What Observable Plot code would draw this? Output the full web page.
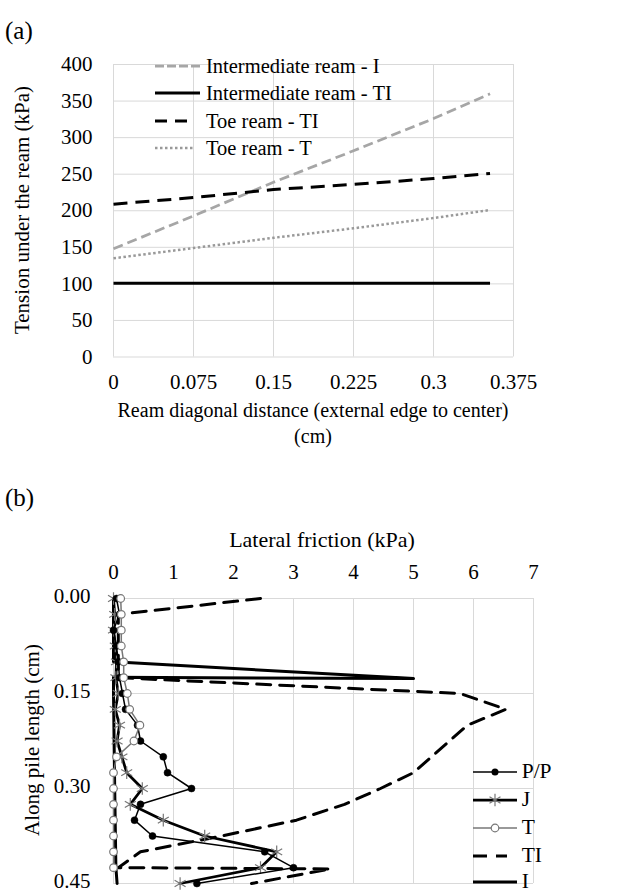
<!DOCTYPE html>
<html>
<head>
<meta charset="utf-8">
<script src="https://cdn.jsdelivr.net/npm/d3@7"></script>
<script src="https://cdn.jsdelivr.net/npm/@observablehq/plot@0.6"></script>
<style>
  html, body { margin: 0; padding: 0; background: #fff; }
  #wrap { position: relative; width: 620px; height: 892px; overflow: hidden;
          font-family: "Liberation Serif", "DejaVu Serif", "Times New Roman", serif; color: #000; }
  #wrap svg, #wrap svg text { font-family: "Liberation Serif", "DejaVu Serif", "Times New Roman", serif !important; }
  .t { position: absolute; white-space: nowrap; line-height: 1; font-size: 21px; }
  .c { transform: translate(-50%, -50%); }
  .l { transform: translate(0, -50%); }
  .rot { transform: translate(-50%, -50%) rotate(-90deg); }
</style>
</head>
<body>
<div id="wrap"></div>
<script>
// ---------- Data: chart (a) ----------
const reamX = [0, 0.075, 0.15, 0.225, 0.3, 0.353];
const intermediateI  = [148, 193, 239, 282, 326, 360];
const intermediateTI = [101, 101, 101, 101, 101, 101];
const toeTI          = [209, 218, 229, 236, 244, 251];
const toeT           = [135, 149, 163, 176, 190, 201];
const seriesNamesA = ["Intermediate ream - I", "Intermediate ream - TI", "Toe ream - TI", "Toe ream - T"];
const xTicksA = [0, 0.075, 0.15, 0.225, 0.3, 0.375];
const xTickLabelsA = ["0", "0.075", "0.15", "0.225", "0.3", "0.375"];
const yTicksA = [0, 50, 100, 150, 200, 250, 300, 350, 400];

// ---------- Data: chart (b) ----------
const depth = [0, 0.025, 0.05, 0.075, 0.1, 0.125, 0.15, 0.175, 0.2, 0.225, 0.25, 0.275, 0.3, 0.325, 0.35, 0.375, 0.4, 0.425, 0.45];
const PP = [0.05, 0.1, 0.0, 0.05, 0.08, 0.1, 0.15, 0.2, 0.4, 0.45, 0.83, 0.9, 1.3, 0.45, 0.35, 0.65, 2.52, 3.0, 1.39];
const J  = [0.0, 0.02, 0.0, 0.03, 0.05, 0.04, 0.08, 0.03, 0.1, 0.06, 0.14, 0.22, 0.48, 0.28, 0.83, 1.52, 2.72, 2.45, 1.11];
const T  = [0.12, 0.13, 0.13, 0.13, 0.17, 0.17, 0.23, 0.27, 0.44, 0.34, 0.05, 0.0, 0.0, 0.0, 0.0, 0.0, 0.0, 0.0];
const tiDepth = [0, 0.025, 0.05, 0.075, 0.1, 0.125, 0.15, 0.175, 0.2, 0.225, 0.25, 0.275, 0.3, 0.325, 0.35, 0.375, 0.4, 0.425, 0.427, 0.45];
const TI      = [2.45, 0.08, 0.08, 0.08, 0.08, 0.08, 5.78, 6.54, 5.9, 5.6, 5.3, 5.0, 4.45, 3.85, 3.05, 1.8, 0.45, 0.08, 3.62, 2.3];
const iDepth = [0, 0.1, 0.1265, 0.1245, 0.15, 0.3, 0.425, 0.45];
const I      = [0, 0, 5.0, 0, 0, 0.02, 0.04, 0.06];
const seriesNamesB = ["P/P", "J", "T", "TI", "I"];
const xTicksB = [0, 1, 2, 3, 4, 5, 6, 7];
const yTicksB = [0, 0.15, 0.30, 0.45];
const yTickLabelsB = ["0.00", "0.15", "0.30", "0.45"];

const FONT = '"Liberation Serif", "DejaVu Serif", "Times New Roman", serif';
const GRID = "#d9d9d9";
const wrap = document.getElementById("wrap");

// ---------- Chart (a) ----------
const toRows = (xs, ys) => xs.map((x, i) => ({x, y: ys[i]}));
const styleA = [
  {data: toRows(reamX, intermediateI),  stroke: "#a6a6a6", w: 2.75, dash: "10,5"},
  {data: toRows(reamX, intermediateTI), stroke: "#000",    w: 3,    dash: null},
  {data: toRows(reamX, toeTI),          stroke: "#000",    w: 3,    dash: "14,8"},
  {data: toRows(reamX, toeT),           stroke: "#999",    w: 2.5,  dash: "2.5,2.5"}
];
const H_A = 460;
const chartA = Plot.plot({
  width: 620, height: H_A,
  marginTop: 64, marginLeft: 113, marginRight: 107, marginBottom: H_A - 356.5,
  style: {fontFamily: FONT, fontSize: "21px", color: "#000", background: "transparent", overflow: "visible"},
  x: {domain: [0, 0.375]},
  y: {domain: [0, 400]},
  marks: [
    Plot.ruleX(xTicksA, {stroke: GRID, strokeWidth: 1}),
    Plot.ruleY(yTicksA, {stroke: GRID, strokeWidth: 1}),
    ...styleA.map(s => Plot.line(s.data, {x: "x", y: "y", stroke: s.stroke, strokeWidth: s.w,
      strokeDasharray: s.dash || undefined, strokeLinecap: "butt"})),
    Plot.axisY({ticks: yTicksA, tickSize: 0, tickPadding: 21, label: null}),
    Plot.axisX({ticks: xTicksA, tickFormat: d => xTickLabelsA[xTicksA.indexOf(d)], tickSize: 0, tickPadding: 17, label: null})
  ]
});
chartA.style.position = "absolute";
chartA.style.left = "0px";
chartA.style.top = "0px";
wrap.appendChild(chartA);

// ---------- Chart (b) ----------
const TOP_B = 460;
const H_B = 892 - TOP_B;
const ppRows = depth.map((d, i) => ({d, f: PP[i]}));
const jRows  = depth.map((d, i) => ({d, f: J[i]}));
const tRows  = T.map((f, i) => ({d: depth[i], f}));
const tiRows = tiDepth.map((d, i) => ({d, f: TI[i]}));
const iRows  = iDepth.map((d, i) => ({d, f: I[i]}));

const chartB = Plot.plot({
  width: 620, height: H_B,
  marginTop: 598 - TOP_B, marginLeft: 113, marginRight: 87, marginBottom: H_B - (883 - TOP_B),
  style: {fontFamily: FONT, fontSize: "21px", color: "#000", background: "transparent", overflow: "visible"},
  x: {domain: [0, 7]},
  y: {domain: [0, 0.45], reverse: true},
  marks: [
    Plot.ruleX(xTicksB, {stroke: GRID, strokeWidth: 1}),
    Plot.ruleY(yTicksB, {stroke: GRID, strokeWidth: 1}),
    Plot.line(tiRows, {x: "f", y: "d", stroke: "#000", strokeWidth: 3, strokeDasharray: "14,9"}),
    Plot.line(iRows, {x: "f", y: "d", stroke: "#000", strokeWidth: 3}),
    Plot.line(jRows, {x: "f", y: "d", stroke: "#000", strokeWidth: 2.75}),
    Plot.dot(jRows, {x: "f", y: "d", symbol: "asterisk", r: 6, stroke: "#777", strokeWidth: 1.2, fill: "none"}),
    Plot.line(ppRows, {x: "f", y: "d", stroke: "#000", strokeWidth: 1.5}),
    Plot.dot(ppRows, {x: "f", y: "d", r: 3.5, fill: "#000", stroke: "#000", strokeWidth: 0.5}),
    Plot.line(tRows, {x: "f", y: "d", stroke: "#777", strokeWidth: 1.5}),
    Plot.dot(tRows, {x: "f", y: "d", r: 3.8, fill: "#fff", stroke: "#777", strokeWidth: 1.2}),
    Plot.axisY({ticks: yTicksB, tickFormat: d => yTickLabelsB[yTicksB.indexOf(d)], tickSize: 0, tickPadding: 23, label: null, dy: -2}),
    Plot.axisX({anchor: "top", ticks: xTicksB, tickFormat: d => String(d), tickSize: 0, tickPadding: 20, label: null})
  ]
});
chartB.style.position = "absolute";
chartB.style.left = "0px";
chartB.style.top = TOP_B + "px";
wrap.appendChild(chartB);

// ---------- Text ----------
function txt(s, x, y, cls, size) {
  const e = document.createElement("div");
  e.className = "t " + cls;
  e.textContent = s;
  e.style.left = x + "px";
  e.style.top = y + "px";
  if (size) e.style.fontSize = size + "px";
  wrap.appendChild(e);
  return e;
}
txt("(a)", 5, 30, "l", 25);
txt("Tension under the ream (kPa)", 22, 210, "rot");
txt("Ream diagonal distance (external edge to center)", 313, 410, "c", 20);
txt("(cm)", 313, 436, "c", 20);
txt("(b)", 5, 497, "l", 25);
txt("Lateral  friction (kPa)", 322, 540, "c", 22);
txt("Along pile length (cm)", 32, 740, "rot");

// ---------- Legends ----------
const NS = "http://www.w3.org/2000/svg";
function sampleSvg(x, y, w, h, build) {
  const s = document.createElementNS(NS, "svg");
  s.setAttribute("width", w); s.setAttribute("height", h);
  s.style.position = "absolute";
  s.style.left = x + "px"; s.style.top = (y - h / 2) + "px";
  s.style.overflow = "visible";
  build(s, h / 2);
  wrap.appendChild(s);
}
function el(name, attrs) {
  const e = document.createElementNS(NS, name);
  for (const k in attrs) e.setAttribute(k, attrs[k]);
  return e;
}
// legend (a)
const legARows = [66, 93.3, 121, 148.3];
const legALen = [48, 45, 37, 40];
styleA.forEach((s, i) => {
  sampleSvg(155, legARows[i], legALen[i], 12, (svg, cy) => {
    const a = {x1: 0, x2: legALen[i], y1: cy, y2: cy, stroke: s.stroke, "stroke-width": s.w};
    if (s.dash) a["stroke-dasharray"] = i === 0 ? "9,3" : (i === 2 ? "12,8" : s.dash);
    svg.appendChild(el("line", a));
  });
  txt(seriesNamesA[i], 206, legARows[i], "l", 20.5);
});
// legend (b)
const legBRows = [772, 800, 828, 856, 882];
const lx = 472.7, lw = 44;
seriesNamesB.forEach((name, i) => {
  sampleSvg(lx, legBRows[i], lw, 14, (svg, cy) => {
    const mid = lw / 2;
    if (name === "P/P") {
      svg.appendChild(el("line", {x1: 0, x2: lw, y1: cy, y2: cy, stroke: "#000", "stroke-width": 1.5}));
      svg.appendChild(el("circle", {cx: mid, cy, r: 3.5, fill: "#000"}));
    } else if (name === "J") {
      svg.appendChild(el("line", {x1: 0, x2: lw, y1: cy, y2: cy, stroke: "#000", "stroke-width": 2.75}));
      const sym = d3.symbol(d3.symbolAsterisk, Math.PI * 36)();
      svg.appendChild(el("path", {d: sym, transform: `translate(${mid},${cy})`, stroke: "#777", "stroke-width": 1.2, fill: "none"}));
    } else if (name === "T") {
      svg.appendChild(el("line", {x1: 0, x2: lw, y1: cy, y2: cy, stroke: "#777", "stroke-width": 1.5}));
      svg.appendChild(el("circle", {cx: mid, cy, r: 3.8, fill: "#fff", stroke: "#777", "stroke-width": 1.2}));
    } else if (name === "TI") {
      svg.appendChild(el("line", {x1: 0, x2: 34, y1: cy, y2: cy, stroke: "#000", "stroke-width": 3, "stroke-dasharray": "14,9"}));
    } else {
      svg.appendChild(el("line", {x1: 0, x2: lw, y1: cy, y2: cy, stroke: "#000", "stroke-width": 3}));
    }
  });
  txt(name, 521.7, legBRows[i], "l", 21.5);
});
</script>
</body>
</html>
